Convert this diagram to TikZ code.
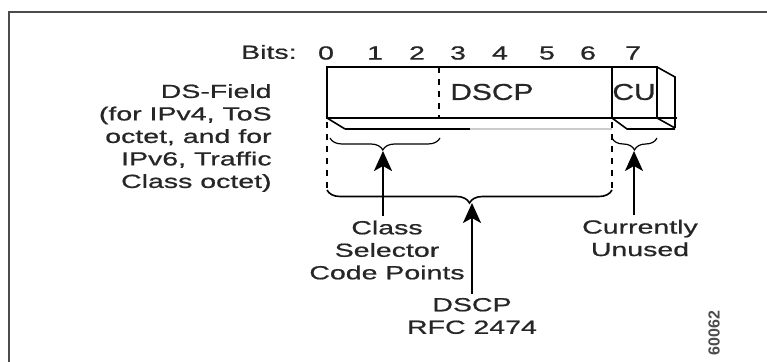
\documentclass[tikz,border=0pt]{standalone}
\usepackage{fontspec}
\setmainfont[FakeStretch=1.5, FakeBold=0.8]{Liberation Sans}
\newfontfamily\boxfont[FakeStretch=1.3, FakeBold=0.8]{Liberation Sans}
\newfontfamily\tagfont{Liberation Sans}
\usetikzlibrary{arrows.meta,decorations.pathreplacing,positioning,calc}

\tikzset{
  lbl/.style={font=\fontsize{9.5}{11.25}\selectfont, text=black!85, inner sep=0pt},
  boxtxt/.style={font=\boxfont\fontsize{11.5}{13}\selectfont, text=black!85, inner sep=0pt},
  edge/.style={line width=0.8pt},
  brc/.style={decorate, decoration={brace, mirror, amplitude=#1}, line width=0.6pt},
  brc/.default=6pt,
  uparrow/.style={-{Stealth[length=10pt, width=9pt, inset=2.5pt]}, line width=#1},
  uparrow/.default=1pt
}

\begin{document}
\begin{tikzpicture}[x=0.5pt, y=-0.5pt]
    \useasboundingbox (0,0) rectangle (767,362);

    % Outer frame
    \draw[black!70, line width=1pt] (9,362) -- (9,12) -- (767,12);

    % Bit numbers
    \node[lbl, anchor=east] (bits) at (297,52) {Bits:};
    \foreach \b/\x in {0/326, 1/375, 2/417, 3/458, 4/500, 5/547, 6/588, 7/633} {
        \node[lbl] (bit\b) at (\x,53) {\b};
    }

    % DS field (front face)
    \draw[edge] (327,67) rectangle (612,118);
    \draw[edge] (612,67) rectangle (657,118);
    \draw[edge, dashed] (439,67) -- (439,118);
    \node[boxtxt, anchor=west] (dscpbox) at (450,92) {DSCP};
    \node[boxtxt] (cubox) at (634,92) {CU};

    % Side and bottom faces
    \draw[edge] (657,67) -- (675,77) -- (675,128);
    \draw[edge] (657,118) -- (677,118);
    \draw[edge] (657,118) -- (675,128);
    \draw[edge] (327,118) -- (345,129);
    \draw[line width=1.4pt] (345,129) -- (470,129);
    \draw[black!20, line width=1pt] (470,129) -- (612,129);
    \draw[edge] (612,118) -- (627,129) -- (675,129);

    % Field boundaries
    \draw[edge, dashed] (327,122) -- (327,190);
    \draw[edge, dashed] (612,122) -- (612,190);

    % Braces
    \draw[brc, decoration={aspect=0.48}] (330,138) -- (440,138);
    \draw[brc] (612,138) -- (657,138);
    \draw[brc=6.5pt, line width=0.8pt] (327,190) -- (612,190);
    \coordinate (cstip) at (383,151);
    \coordinate (cutip) at (634,151);
    \coordinate (dstip) at (472,203);

    % Labels
    \node[lbl, align=right, anchor=east] (dsfield) at (272,138)
        {DS-Field\\(for IPv4, ToS\\octet, and for\\IPv6, Traffic\\Class octet)};
    \node[lbl, align=center] (csel) at (387,250) {Class\\Selector\\Code Points};
    \node[lbl, align=center] (cunused) at (640,238) {Currently\\Unused};
    \node[lbl, align=center] (dscprfc) at (472,316) {DSCP\\RFC 2474};
    \node[font=\tagfont\bfseries\fontsize{8}{8}\selectfont, text=black!70, rotate=90, inner sep=0pt]
        (figid) at (714,333) {60062};

    % Arrows
    \draw[uparrow=1.4pt] ($(csel.north -| cstip)+(0,-4)$) -- (cstip);
    \draw[uparrow=1.1pt] ($(dscprfc.north)+(0,-4)$) -- (dstip);
    \draw[uparrow=0.9pt] ($(cunused.north -| cutip)+(0,-4)$) -- (cutip);
\end{tikzpicture}
\end{document}
